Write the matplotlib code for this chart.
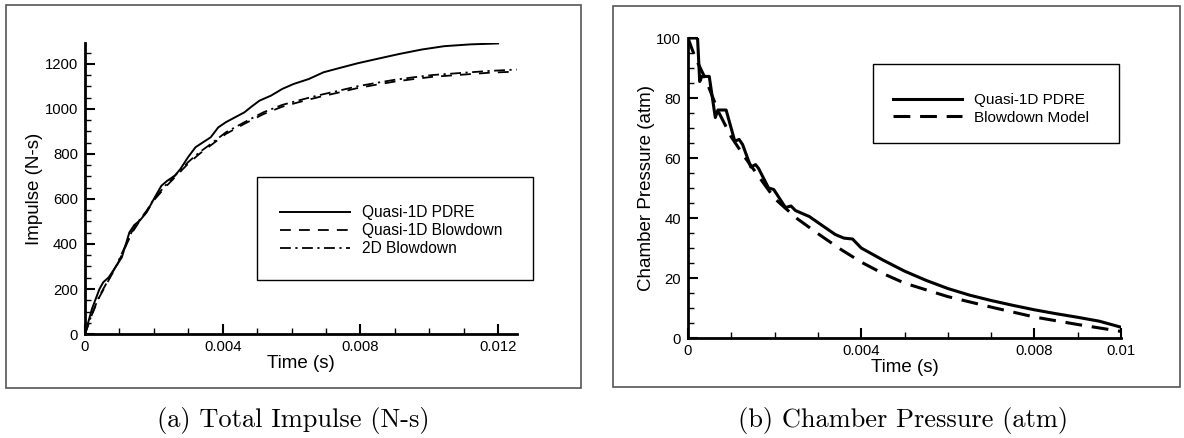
import matplotlib.pyplot as plt
from matplotlib.patches import Rectangle
from matplotlib.ticker import MultipleLocator

# Total impulse data (left)
t_pdre = [0, 0.0002, 0.00042, 0.00053, 0.00069, 0.00085, 0.00107, 0.00129, 0.00143, 0.00159,
          0.00179, 0.002, 0.00222, 0.00239, 0.00261, 0.00277, 0.00299, 0.00321, 0.00343, 0.00365,
          0.00387, 0.00409, 0.00436, 0.00463, 0.00485, 0.00507, 0.0054, 0.00573, 0.00606, 0.0065,
          0.00693, 0.00737, 0.00792, 0.00847, 0.00912, 0.00978, 0.01044, 0.0112, 0.012]
imp_pdre = [0, 111, 200, 230, 252, 289, 341, 452, 484, 504,
            541, 600, 659, 681, 704, 733, 785, 830, 852, 874,
            918, 941, 963, 985, 1012, 1037, 1059, 1089, 1111, 1133,
            1163, 1181, 1203, 1222, 1244, 1264, 1279, 1287, 1291]

t_blow = [0, 0.0002, 0.00042, 0.00069, 0.00091, 0.00113, 0.00135, 0.00157, 0.00179, 0.002,
          0.00233, 0.00266, 0.00299, 0.00332, 0.00365, 0.00409, 0.00463, 0.00518, 0.00573, 0.00628,
          0.00682, 0.00737, 0.00792, 0.00847, 0.00901, 0.00956, 0.01011, 0.01066, 0.0112, 0.01175, 0.01254]
imp_q1d_blow = [0, 86, 165, 240, 300, 372, 446, 498, 543, 594,
                652, 704, 756, 800, 838, 889, 934, 977, 1010, 1033,
                1054, 1073, 1093, 1108, 1122, 1133, 1143, 1149, 1155, 1161, 1166]
imp_2d_blow = [0, 89, 170, 244, 304, 378, 452, 504, 548, 600,
               659, 711, 763, 807, 844, 896, 941, 985, 1018, 1041,
               1062, 1081, 1101, 1116, 1130, 1141, 1151, 1157, 1163, 1169, 1175]

# Chamber pressure data (right)
t_pc = [0, 0.00022, 0.00027, 0.00032, 0.00049, 0.00063, 0.00069, 0.00088, 0.00108, 0.00118,
        0.00126, 0.00145, 0.00156, 0.00163, 0.00186, 0.00198, 0.00225, 0.00238, 0.00248, 0.0028,
        0.0031, 0.0034, 0.0036, 0.0038, 0.004, 0.0045, 0.005, 0.0055, 0.006, 0.0065, 0.007,
        0.0075, 0.008, 0.0085, 0.009, 0.0095, 0.01]
pc_pdre = [100, 100, 85.5, 87.2, 87.2, 73.5, 76, 76, 65.6, 66.2,
           64.5, 57, 57.8, 56.5, 50, 49.5, 43.5, 44, 42.5, 40.5,
           37.5, 34.5, 33.3, 33, 30, 26, 22.3, 19.2, 16.5, 14.3, 12.5,
           10.9, 9.4, 8.1, 6.9, 5.6, 3.6]

t_bd = [0, 0.0001, 0.0002, 0.0004, 0.0007, 0.001, 0.0013, 0.0016, 0.002, 0.0025,
        0.003, 0.0035, 0.004, 0.0045, 0.005, 0.006, 0.007, 0.008, 0.009, 0.01]
pc_blow = [100, 96, 92.5, 86.5, 75.5, 67, 60.5, 54.5, 46.5, 40,
           34.8, 29.8, 25.3, 21.5, 18.3, 13.8, 10.3, 7, 4.5, 2.2]

plt.rcParams['font.family'] = ['Liberation Sans', 'DejaVu Sans']

fig = plt.figure(figsize=(11.84, 4.38), dpi=100)

# outer frames around each panel
fig.patches.append(Rectangle((0.00507, 0.1142), 0.4856, 0.8744, transform=fig.transFigure,
                             fill=False, edgecolor='#555555', linewidth=1.2))
fig.patches.append(Rectangle((0.5177, 0.1164), 0.4789, 0.870, transform=fig.transFigure,
                             fill=False, edgecolor='#555555', linewidth=1.2))


def style_axes(ax, ymajor, yminor):
    for s in ['top', 'right']:
        ax.spines[s].set_visible(False)
    for s in ['left', 'bottom']:
        ax.spines[s].set_linewidth(2)
    ax.yaxis.set_major_locator(MultipleLocator(ymajor))
    ax.yaxis.set_minor_locator(MultipleLocator(yminor))
    ax.xaxis.set_major_locator(MultipleLocator(0.004))
    ax.xaxis.set_minor_locator(MultipleLocator(0.001))
    ax.tick_params(which='major', direction='in', length=7, width=1.5, labelsize=10.7)
    ax.tick_params(which='minor', direction='in', length=4.5, width=1)
    ax.tick_params(axis='y', which='major', pad=5)
    ax.tick_params(axis='x', which='major', pad=4)


# (a) total impulse
ax1 = fig.add_axes([0.0718, 0.2374, 0.3649, 0.6644])
l1, = ax1.plot(t_pdre, imp_pdre, color='black', linewidth=1.4, linestyle='-')
l2, = ax1.plot(t_blow, imp_q1d_blow, color='black', linewidth=1.3, linestyle=(0, (6, 4.5)))
l3, = ax1.plot(t_blow, imp_2d_blow, color='black', linewidth=1.3, linestyle=(0, (6, 2.5, 1.2, 2.5)))
ax1.set_xlim(0, 0.01255)
ax1.set_ylim(0, 1293)
style_axes(ax1, 200, 50)
ax1.set_xticks([0, 0.004, 0.008, 0.012])
ax1.set_xticklabels(['0', '0.004', '0.008', '0.012'])
ax1.set_xlabel('Time (s)', fontsize=13.5, labelpad=1)
ax1.set_ylabel('Impulse (N-s)', fontsize=13.5, labelpad=1)

fig.patches.append(Rectangle((257 / 1184, 1 - 280 / 438), 276 / 1184, 103 / 438,
                             transform=fig.transFigure, fill=False, edgecolor='black', linewidth=1))
fig.legend([l1, l2, l3], ['Quasi-1D PDRE', 'Quasi-1D Blowdown', '2D Blowdown'],
           loc='upper left', bbox_to_anchor=(280 / 1184, 1 - 205 / 438), frameon=False,
           fontsize=11.2, handlelength=4.5, handletextpad=0.8, labelspacing=0.2,
           borderpad=0, borderaxespad=0)

# (b) chamber pressure
ax2 = fig.add_axes([0.5811, 0.2283, 0.3657, 0.6849])
m1, = ax2.plot(t_pc, pc_pdre, color='black', linewidth=2.2, linestyle='-')
m2, = ax2.plot(t_bd, pc_blow, color='black', linewidth=2.2, linestyle=(0, (5.5, 3.2)))
ax2.set_xlim(0, 0.01)
ax2.set_ylim(0, 100)
style_axes(ax2, 20, 5)
ax2.set_xticks([0, 0.004, 0.008, 0.01])
ax2.set_xticklabels(['0', '0.004', '0.008', '0.01'])
ax2.set_xlabel('Time (s)', fontsize=13.5, labelpad=1)
ax2.set_ylabel('Chamber Pressure (atm)', fontsize=13.5, labelpad=1)

fig.patches.append(Rectangle((873 / 1184, 1 - 143 / 438), 246 / 1184, 79 / 438,
                             transform=fig.transFigure, fill=False, edgecolor='black', linewidth=1))
fig.legend([m1, m2], ['Quasi-1D PDRE', 'Blowdown Model'],
           loc='upper left', bbox_to_anchor=(893 / 1184, 1 - 93 / 438), frameon=False,
           fontsize=11, handlelength=4.5, handletextpad=0.8, labelspacing=0.25,
           borderpad=0, borderaxespad=0)

# captions
fig.text(0.248, 0.041, '(a) Total Impulse (N-s)', ha='center', va='center',
         fontsize=19, family=['cmr10', 'DejaVu Serif'])
fig.text(0.763, 0.041, '(b) Chamber Pressure (atm)', ha='center', va='center',
         fontsize=19, family=['cmr10', 'DejaVu Serif'])

fig.savefig('out.png', dpi=100)
